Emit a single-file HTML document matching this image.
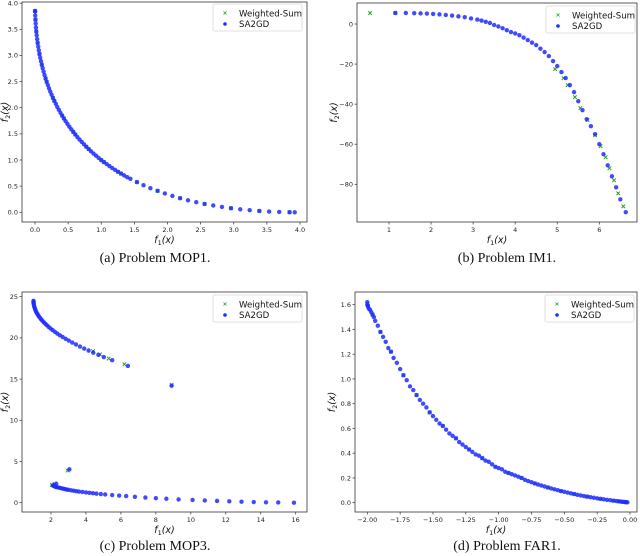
<!DOCTYPE html>
<html><head><meta charset="utf-8"><style>
html,body{margin:0;padding:0;background:#fff}
svg{display:block}
text{font-family:"DejaVu Sans","Liberation Sans",sans-serif}
.cap{font-family:"Liberation Serif","DejaVu Serif",serif;font-size:14px}
</style></head><body>
<svg id="fig" width="640" height="556" viewBox="0 0 640 556" xmlns="http://www.w3.org/2000/svg"></svg>
<script>
// ---- MOP1 data ----
const mop1F1=[0.0004,0.0016,0.0036,0.0064,0.01,0.0144,0.0196,0.0256,0.0324,0.04,0.0484,0.0576,0.0676,0.0784,0.09,0.1024,0.1156,0.13,0.16,0.194,0.230,0.270,0.314,0.36,0.410,0.462,0.518,0.578,0.64,0.706,0.774,0.846,0.922,1,1.082,1.166,1.254,1.346,1.44,1.538,1.638,1.742,1.850,1.96,2.074,2.190,2.310,2.434,2.56,2.690,2.822,2.958,3.098,3.24,3.386,3.534,3.686,3.842,3.92,
0.1444,0.1764,0.2116,0.25,0.2916,0.3364,0.3844,0.4356,0.49,0.5476,0.6084,0.6724,0.7396,0.81,0.8836,0.9604,1.040,1.124,1.21,1.300,1.392];
const mop1F2=[3.85,3.842,3.764,3.686,3.61,3.534,3.46,3.386,3.312,3.24,3.168,3.098,3.028,2.958,2.89,2.822,2.756,2.69,2.56,2.434,2.310,2.190,2.074,1.96,1.850,1.742,1.638,1.538,1.44,1.346,1.254,1.166,1.082,1,0.922,0.846,0.774,0.706,0.64,0.578,0.518,0.462,0.410,0.36,0.314,0.270,0.230,0.194,0.16,0.130,0.102,0.078,0.058,0.04,0.026,0.014,0.006,0.002,0.0,
2.624,2.496,2.372,2.25,2.132,2.016,1.904,1.796,1.69,1.588,1.488,1.392,1.300,1.21,1.124,1.040,0.9604,0.8836,0.81,0.7396,0.6724];
const mop1XTicks=[0,0.5,1,1.5,2,2.5,3,3.5,4];
const mop1XLabels=["0.0","0.5","1.0","1.5","2.0","2.5","3.0","3.5","4.0"];
const mop1YTicks=[0,0.5,1,1.5,2,2.5,3,3.5,4];
const mop1YLabels=["0.0","0.5","1.0","1.5","2.0","2.5","3.0","3.5","4.0"];
// ---- IM1 data ----
const im1F1=[1.15,1.4,1.6,1.75,1.9,2.05,2.2,2.35,2.5,2.65,2.8,2.95,3.1,3.2,3.3,3.4,3.5,3.6,3.7,3.8,3.9,4.0,4.1,4.2,4.3,4.4,4.5,4.6,4.7,4.8,4.9,5.0,5.1,5.2,5.3,5.4,5.5,5.6,5.7,5.8,5.9,6.0,6.1,6.2,6.3,6.4,6.5,6.63];
const im1F2=[5.5,5.5,5.4,5.3,5.2,5.0,4.8,4.5,4.2,3.8,3.4,2.8,2.2,1.7,1.1,0.5,-0.5,-1.2,-2.1,-3.1,-4.0,-4.7,-5.6,-6.8,-8.0,-9.3,-10.5,-12.3,-14,-16,-18.5,-21,-24,-27,-30.5,-34,-38.5,-43,-47.5,-51,-55,-60,-65,-70.5,-76,-81.5,-87.5,-93.9];
const im1WF1=[0.55,1.15,4.95,5.15,5.25,5.42,5.55,5.72,5.9,6.03,6.15,6.24,6.35,6.45,6.57];
const im1WF2=[5.5,5.5,-22.5,-27,-30.5,-36.5,-42,-48,-55.5,-61,-66.5,-72,-78,-84.5,-91];
const im1XTicks=[1,2,3,4,5,6];
const im1XLabels=["1","2","3","4","5","6"];
const im1YTicks=[0,-20,-40,-60,-80];
const im1YLabels=["0","\u221220","\u221240","\u221260","\u221280"];
// ---- MOP3 data ----
const mop3F1=[1.0,1.0,1.0,1.01,1.02,1.04,1.06,1.09,1.12,1.16,1.2,1.25,1.3,1.36,1.43,1.5,1.58,1.67,1.76,1.86,1.97,2.09,2.22,2.36,2.51,2.67,2.84,3.02,3.22,3.43,3.66,3.9,4.15,4.42,4.71,5.02,5.5,6.4,8.9,3.05,2.3,
2.1,2.15,2.2,2.25,2.3,2.4,2.5,2.6,2.7,2.8,2.9,3.0,3.15,3.3,3.45,3.6,3.8,4.0,4.2,4.4,4.6,4.85,5.1,5.5,5.9,6.3,6.8,7.4,8.0,8.6,9.3,10.1,10.8,11.5,12.2,12.9,13.6,14.3,15.0,15.9];
const mop3F2=[24.5,24.4,24.3,24.16,24.02,23.82,23.67,23.48,23.32,23.14,22.98,22.8,22.64,22.46,22.27,22.1,21.91,21.72,21.54,21.35,21.15,20.95,20.74,20.53,20.32,20.11,19.89,19.67,19.43,19.2,18.95,18.71,18.47,18.21,17.95,17.68,17.3,16.6,14.2,4.05,2.3,
2.1,2.05,2.0,1.95,1.9,1.85,1.8,1.75,1.7,1.65,1.6,1.56,1.5,1.45,1.4,1.35,1.3,1.25,1.2,1.15,1.1,1.05,1.0,0.93,0.87,0.8,0.72,0.63,0.55,0.48,0.4,0.33,0.27,0.22,0.17,0.12,0.08,0.05,0.03,0.0];
const mop3WF1=[4.4,4.8,5.3,6.2,8.9,2.95,2.05,2.2];
const mop3WF2=[18.4,18.0,17.5,16.8,14.3,3.9,2.15,2.3];
const mop3XTicks=[2,4,6,8,10,12,14,16];
const mop3XLabels=["2","4","6","8","10","12","14","16"];
const mop3YTicks=[0,5,10,15,20,25];
const mop3YLabels=["0","5","10","15","20","25"];
// ---- FAR1 data ----
const far1F1=[-2.0,-2.0,-1.995,-1.99,-1.98,-1.97,-1.96,-1.95,-1.94,-1.92,-1.9,-1.88,-1.86,-1.84,-1.82,-1.8,-1.775,-1.75,-1.725,-1.7,-1.675,-1.65,-1.625,-1.6,-1.575,-1.55,-1.525,-1.5,-1.475,-1.45,-1.425,-1.4,-1.375,-1.35,-1.325,-1.3,-1.275,-1.25,-1.225,-1.2,-1.175,-1.15,-1.125,-1.1,-1.075,-1.05,-1.025,-1.0,-0.975,-0.95,-0.925,-0.9,-0.875,-0.85,-0.825,-0.8,-0.775,-0.75,-0.725,-0.7,-0.675,-0.65,-0.625,-0.6,-0.575,-0.55,-0.525,-0.5,-0.475,-0.45,-0.425,-0.4,-0.375,-0.35,-0.325,-0.3,-0.275,-0.25,-0.225,-0.2,-0.175,-0.15,-0.125,-0.1,-0.085,-0.07,-0.055,-0.04,-0.03,-0.02];
const far1F2=[1.62,1.60,1.59,1.57,1.56,1.54,1.52,1.50,1.47,1.43,1.38,1.34,1.30,1.25,1.22,1.17,1.13,1.08,1.03,0.99,0.94,0.91,0.87,0.83,0.80,0.77,0.73,0.70,0.67,0.64,0.62,0.59,0.56,0.54,0.52,0.49,0.47,0.45,0.43,0.41,0.39,0.38,0.36,0.34,0.33,0.31,0.29,0.28,0.27,0.25,0.24,0.23,0.22,0.21,0.20,0.185,0.175,0.166,0.156,0.147,0.139,0.131,0.123,0.115,0.108,0.101,0.094,0.088,0.082,0.076,0.070,0.064,0.059,0.054,0.049,0.044,0.040,0.035,0.031,0.027,0.023,0.020,0.016,0.013,0.011,0.009,0.007,0.005,0.004,0.003];
const far1XTicks=[-2,-1.75,-1.5,-1.25,-1,-0.75,-0.5,-0.25,0];
const far1XLabels=["\u22122.00","\u22121.75","\u22121.50","\u22121.25","\u22121.00","\u22120.75","\u22120.50","\u22120.25","0.00"];
const far1YTicks=[0,0.2,0.4,0.6,0.8,1.0,1.2,1.4,1.6];
const far1YLabels=["0.0","0.2","0.4","0.6","0.8","1.0","1.2","1.4","1.6"];

const NS="http://www.w3.org/2000/svg";
const svg=document.getElementById('fig');
function mk(tag,attrs,parent){const e=document.createElementNS(NS,tag);for(const k in attrs)e.setAttribute(k,attrs[k]);(parent||svg).appendChild(e);return e;}
function lin(d0,p0,d1,p1){return v=>p0+(v-d0)*(p1-p0)/(d1-d0);}

function panel(o){
  const g=mk('g',{});
  
  
  const sx=lin(o.xd[0],o.xp[0],o.xd[1],o.xp[1]);
  const sy=lin(o.yd[0],o.yp[0],o.yd[1],o.yp[1]);
  const b=o.box;
  const wg=mk('g',{},g);
  
  
  for(let i=0;i<o.wx.length;i++){
    const x=sx(o.wx[i]),y=sy(o.wy[i]);
    const p=mk('path',{d:`M${x-1.8},${y-1.8}L${x+1.8},${y+1.8}M${x-1.8},${y+1.8}L${x+1.8},${y-1.8}`,stroke:'#2ca02c','stroke-width':0.9},wg);
    
    
  }
  const bg=mk('g',{},g);
  
  
  for(let i=0;i<o.bx.length;i++){
    const c=mk('circle',{cx:sx(o.bx[i]),cy:sy(o.by[i]),r:2.2,fill:'#1f2bff','fill-opacity':0.85},bg);
    
    
  }
  for(let i=0;i<o.wx.length;i++){
    if(!o.wtop)break;
    const x=sx(o.wx[i]),y=sy(o.wy[i]);
    mk('path',{d:`M${x-1.6},${y-1.6}L${x+1.6},${y+1.6}M${x-1.6},${y+1.6}L${x+1.6},${y-1.6}`,stroke:'#2ca02c','stroke-width':0.8},wg);
  }
  const frame=mk('rect',{x:b[0],y:b[1],width:b[2]-b[0],height:b[3]-b[1],fill:'none',stroke:'#333','stroke-width':0.8},g);
  
  
  o.xt.forEach((v,i)=>{
    const x=sx(v);
    mk('line',{x1:x,x2:x,y1:b[3],y2:b[3]+2.5,stroke:'#333','stroke-width':0.7},g);
    const t=mk('text',{x:x,y:b[3]+10,'font-size':6.5,'text-anchor':'middle',fill:'#222'},g);
    t.textContent=o.xl[i];
    
    
  });
  o.yt.forEach((v,i)=>{
    const y=sy(v);
    mk('line',{x1:b[0]-2.5,x2:b[0],y1:y,y2:y,stroke:'#333','stroke-width':0.7},g);
    const t=mk('text',{x:b[0]-4,y:y+2.3,'font-size':6.5,'text-anchor':'end',fill:'#222'},g);
    t.textContent=o.yl[i];
    
    
  });
  const xl=mk('text',{x:(b[0]+b[2])/2,y:b[3]+21,'font-size':9.5,'text-anchor':'middle','font-style':'italic',fill:'#111'},g);
  xl.innerHTML='f<tspan font-size="6.5" dy="2" font-style="normal">1</tspan><tspan dy="-2">(x)</tspan>';
  
  
  const yx=o.ylx, yy=(b[1]+b[3])/2;
  const yl=mk('text',{x:yx,y:yy,'font-size':9.5,'text-anchor':'middle','font-style':'italic',fill:'#111',transform:`rotate(-90 ${yx} ${yy})`},g);
  yl.innerHTML='f<tspan font-size="6.5" dy="2" font-style="normal">2</tspan><tspan dy="-2">(x)</tspan>';
  
  
  const L=o.leg;
  const lg=mk('g',{},g);
  
  
  mk('rect',{x:L[0],y:L[1],width:89,height:27,rx:2,fill:'#fff','fill-opacity':0.85,stroke:'#d8d8d8','stroke-width':0.8},lg);
  const mx=L[0]+12;
  mk('path',{d:`M${mx-1.5},${L[1]+7.5}L${mx+1.5},${L[1]+10.5}M${mx-1.5},${L[1]+10.5}L${mx+1.5},${L[1]+7.5}`,stroke:'#2ca02c','stroke-width':0.8},lg);
  mk('circle',{cx:mx,cy:L[1]+20,r:1.8,fill:'#1f2bff'},lg);
  const t1=mk('text',{x:L[0]+26,y:L[1]+12.5,'font-size':8.6,fill:'#111'},lg);t1.textContent='Weighted-Sum';
  
  
  const t2=mk('text',{x:L[0]+26,y:L[1]+23,'font-size':8.6,fill:'#111'},lg);t2.textContent='SA2GD';
  
  
  const cap=mk('text',{x:o.capx,y:o.capy,'text-anchor':'middle',class:'cap',fill:'#111'},g);
  cap.textContent=o.cap;
  
  
}

panel({name:'panel-mop1',box:[22,2,307,222],xd:[0,4],xp:[35,300],yd:[0,3.5],yp:[212.3,29.3],
  bx:mop1F1,by:mop1F2,wx:mop1F1.filter((v,i)=>i%3==0),wy:mop1F2.filter((v,i)=>i%3==0),wtop:false,
  xt:mop1XTicks,xl:mop1XLabels,yt:mop1YTicks,yl:mop1YLabels,ylx:8,leg:[213,4],cap:'(a) Problem MOP1.',capx:155,capy:262});
panel({name:'panel-im1',box:[357,3,637,222],xd:[1,6],xp:[389,599.3],yd:[0,-80],yp:[24,184.3],
  bx:im1F1,by:im1F2,wx:im1WF1,wy:im1WF2,wtop:true,
  xt:im1XTicks,xl:im1XLabels,yt:im1YTicks,yl:im1YLabels,ylx:337,leg:[546,6],cap:'(b) Problem IM1.',capx:507,capy:262});
panel({name:'panel-mop3',box:[22,292,307,512],xd:[2,16],xp:[51,295.7],yd:[0,25],yp:[502.7,296.7],
  bx:mop3F1,by:mop3F2,wx:mop3WF1,wy:mop3WF2,wtop:true,
  xt:mop3XTicks,xl:mop3XLabels,yt:mop3YTicks,yl:mop3YLabels,ylx:8,leg:[213,295],cap:'(c) Problem MOP3.',capx:155,capy:550});
panel({name:'panel-far1',box:[355,292,637,512],xd:[-2,0],xp:[367.3,630],yd:[0,1.6],yp:[502.7,304.7],
  bx:far1F1,by:far1F2,wx:far1F1.filter((v,i)=>i%4==2),wy:far1F2.filter((v,i)=>i%4==2),wtop:false,
  xt:far1XTicks,xl:far1XLabels,yt:far1YTicks,yl:far1YLabels,ylx:335,leg:[545,295],cap:'(d) Problem FAR1.',capx:507,capy:550});
</script>
</body></html>
